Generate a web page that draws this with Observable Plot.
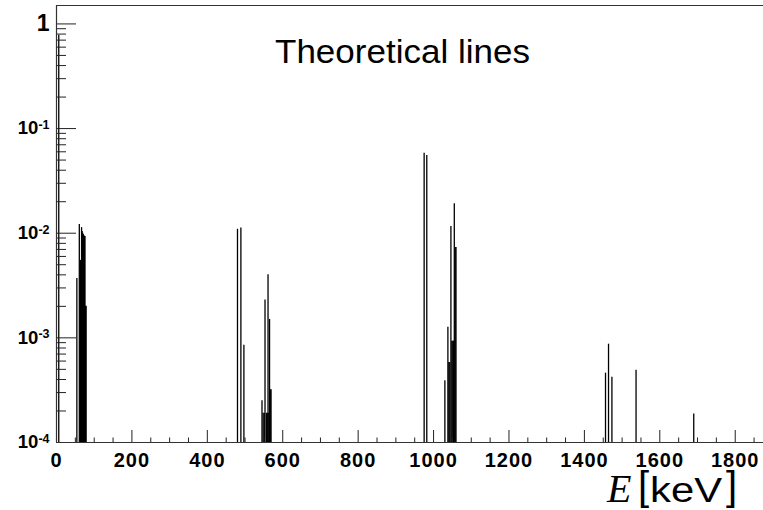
<!DOCTYPE html>
<html><head><meta charset="utf-8">
<script src="https://cdn.jsdelivr.net/npm/d3@7"></script>
<script src="https://cdn.jsdelivr.net/npm/@observablehq/plot@0.6"></script>
<style>body{margin:0;background:#fff}</style>
</head><body><div id="chart"></div>
<script>
// Line energies (keV) and relative intensities
const energies = [6, 54, 60.5, 63.5, 66.5, 68, 69.5, 71, 72.5, 74, 75.5, 77, 78.5,
  480, 489, 497, 545, 548, 551, 553, 557, 559, 561, 563, 565, 567, 569,
  975, 982, 1030, 1038, 1040.5, 1043, 1046, 1048.5, 1051, 1053, 1055, 1057.5, 1059.5,
  1456, 1464, 1473, 1537, 1690];
const intensities = [0.78, 0.0037, 0.0121, 0.0055, 0.0113, 0.0104, 0.0100, 0.0097, 0.0095, 0.0093, 0.0093, 0.0020, 0.0020,
  0.0109, 0.0112, 0.00085, 0.00025, 0.00019, 0.00019, 0.0023, 0.00019, 0.00019, 0.0040, 0.00019, 0.0015, 0.00032, 0.00032,
  0.0582, 0.0554, 0.00039, 0.00126, 0.00058, 0.00058, 0.0116, 0.00093, 0.00093, 0.00093, 0.0191, 0.0073, 0.0073,
  0.00046, 0.00087, 0.00042, 0.00049, 0.000187];
const xMajorTicks = [0, 200, 400, 600, 800, 1000, 1200, 1400, 1600, 1800];
const xMinorTicks = [50, 100, 150, 250, 300, 350, 450, 500, 550, 650, 700, 750, 850, 900, 950,
  1050, 1100, 1150, 1250, 1300, 1350, 1450, 1500, 1550, 1650, 1700, 1750, 1850];
const yMajorTicks = [1e-4, 1e-3, 1e-2, 1e-1, 1];
const yExponents = ["-4", "-3", "-2", "-1", ""];
const yMinorTicks = [];
for (const d of [1e-4, 1e-3, 1e-2, 1e-1, 1]) for (const k of [2,3,4,5,6,7,8,9]) if (k*d < 1.5) yMinorTicks.push(k*d);
const titleText = "Theoretical lines";
const xTitleVar = "E", xTitleUnit = "keV";

const xDomain = [0, 1875];
const yDomain = [1e-4, 1.5];

const lines = energies.map((E, i) => ({E, I: intensities[i]}));

const font = "'Liberation Sans', Arial, Helvetica, sans-serif";
const plot = Plot.plot({
  width: 763, height: 510,
  marginLeft: 56, marginRight: 0, marginTop: 5, marginBottom: 68,
  x: {domain: xDomain, label: null},
  y: {type: "log", domain: yDomain, label: null},
  style: {fontFamily: font, background: "white", overflow: "visible"},
  marks: [
    Plot.ruleX(lines, {x: "E", y1: yDomain[0], y2: "I", stroke: "black", strokeWidth: 1.3}),
    Plot.axisX({ticks: xMajorTicks, tickSize: -12, fill: "none", stroke: "#222", label: null, tickFormat: () => ""}),
    Plot.axisX({ticks: xMinorTicks, tickSize: -4.5, fill: "none", stroke: "#222", label: null, tickFormat: () => ""}),
    Plot.axisX({ticks: xMajorTicks, tickSize: 0, tickPadding: 10, label: null, fill: "black", tickFormat: d => String(d)}),
    Plot.axisY({ticks: yMajorTicks, tickSize: -20, fill: "none", stroke: "#222", label: null, tickFormat: () => ""}),
    Plot.axisY({ticks: yMinorTicks, tickSize: -10, fill: "none", stroke: "#222", label: null, tickFormat: () => ""}),
    Plot.axisY({ticks: yMajorTicks, tickSize: 0, tickPadding: 7, label: null, fill: "black",
      tickFormat: d => d === 1 ? "1" : "10"}),
    Plot.ruleX([xDomain[0]], {stroke: "#333", strokeWidth: 1.2}),
    Plot.ruleY([yDomain[0]], {stroke: "#333", strokeWidth: 1.2}),
    Plot.ruleY([yDomain[1]], {stroke: "#333", strokeWidth: 1.2})
  ]
});
document.getElementById("chart").append(plot);

const svg = d3.select(plot);
// x tick labels
svg.selectAll('g[aria-label="x-axis tick label"] text')
  .attr("font-size", 20).attr("font-weight", "bold").attr("letter-spacing", "1px");
// y tick labels with superscripts
svg.selectAll('g[aria-label="y-axis tick label"] text').each(function(d, i) {
  const t = d3.select(this);
  t.attr("font-weight", "bold");
  const exp = yExponents[i];
  if (!exp) { t.attr("font-size", 23); return; }
  t.attr("font-size", 18.5);
  t.append("tspan").attr("dy", "-0.45em").attr("font-size", 12.5).text(exp);
});
// title
svg.append("text").attr("x", 275).attr("y", 63).attr("font-size", 32.5).attr("text-anchor", "start")
  .attr("font-family", font).attr("textLength", 255).attr("lengthAdjust", "spacingAndGlyphs")
  .attr("fill", "black").text(titleText);
// x axis title: E[keV]
const g = svg.append("g").attr("fill", "black").attr("text-anchor", "start");
g.append("text").attr("x", 607).attr("y", 502).attr("font-family", "'Liberation Serif', 'Times New Roman', serif")
  .attr("font-style", "italic").attr("font-size", 40).text(xTitleVar);
g.append("text").attr("x", 638).attr("y", 500).attr("font-family", font).attr("font-size", 40).text("[");
g.append("text").attr("x", 650).attr("y", 502).attr("font-family", font).attr("font-size", 35)
  .attr("textLength", 72).attr("lengthAdjust", "spacingAndGlyphs").text(xTitleUnit);
g.append("text").attr("x", 726).attr("y", 500).attr("font-family", font).attr("font-size", 40).text("]");
</script>
</body></html>
